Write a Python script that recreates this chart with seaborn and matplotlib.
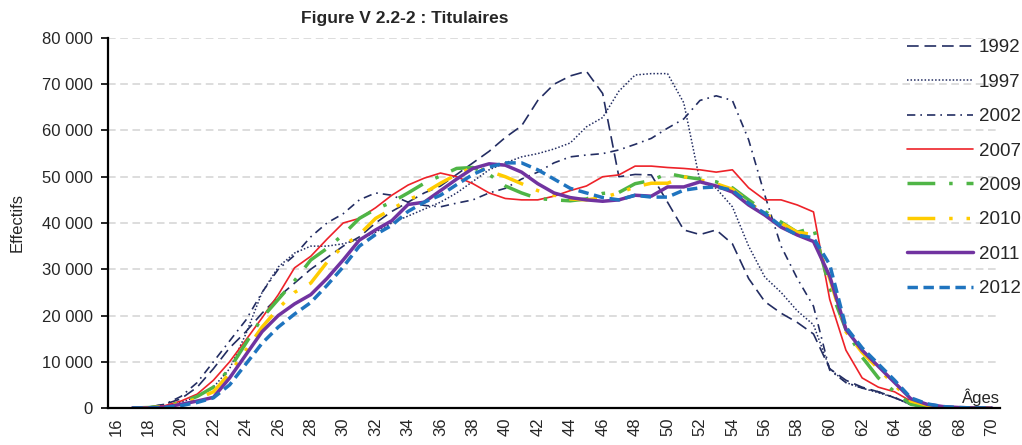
import numpy as np
import pandas as pd
import matplotlib
matplotlib.use("Agg")
import matplotlib.pyplot as plt
from matplotlib.ticker import FuncFormatter, FixedLocator
import seaborn as sns

# ages 16..70
ages = list(range(16, 71))

y1992 = [0, 0, 200, 800, 2000, 4500, 8500, 13000, 16500, 20500, 24000, 27000, 30000, 32500,
         35000, 37000, 40000, 42500, 44500, 46500, 48000, 50500, 53000, 55500, 58500, 61000,
         66500, 70000, 71800, 72800, 68000, 50000, 50500, 50400, 44500, 38500, 37500, 38500,
         35500, 28000, 23000, 20500, 18500, 16000, 8500, 6000, 4500, 3500, 2200, 800, 300,
         100, 0, 0, 0]
y1997 = [0, 0, 100, 400, 1200, 2500, 4500, 8500, 16000, 25000, 30500, 33500, 35000, 35000,
         35500, 36500, 38000, 40000, 41500, 43000, 44500, 46500, 49000, 51500, 53000, 54300,
         55000, 56000, 57300, 60800, 62800, 68500, 72000, 72300, 72300, 66000, 49000, 47500,
         43500, 35000, 28300, 25000, 21000, 18000, 8500, 5500, 4300, 3300, 2200, 700, 200,
         50, 0, 0, 0]
y2002 = [0, 0, 200, 800, 2500, 5500, 10000, 14500, 19000, 25000, 30000, 33000, 37000, 40000,
         42000, 45000, 46500, 46000, 44500, 43800, 43500, 44300, 45000, 46500, 47500, 49500,
         51000, 53000, 54300, 54700, 55000, 55800, 57000, 58300, 60500, 62500, 66500, 67500,
         66500, 58000, 46000, 35000, 28000, 22000, 8200, 5500, 4300, 3500, 2300, 700, 200,
         50, 0, 0, 0]
y2007 = [None, 0, 100, 500, 1500, 3000, 6000, 10000, 14700, 19500, 24500, 30300, 32800, 36500,
         40000, 41000, 43300, 46000, 48200, 49700, 50800, 50000, 48500, 46500, 45300, 45000,
         45000, 45800, 47000, 48000, 50000, 50400, 52300, 52300, 52000, 51800, 51500, 51000,
         51500, 47600, 45000, 45000, 43900, 42400, 23500, 12500, 6500, 4500, 3500, 1500, 400,
         100, 0, 0, 0]
y2009 = [None, 0, 100, 400, 1200, 2500, 4500, 8500, 14000, 19500, 23500, 27500, 32000, 34500,
         37500, 41000, 43000, 44500, 46500, 48600, 50200, 51800, 52000, 50500, 48000, 46500,
         45300, 45000, 44800, 45200, 46400, 46600, 48500, 49200, 50700, 50000, 49500, 48900,
         47600, 45000, 42500, 40200, 38000, 39000, 26000, 17000, 11000, 6500, 3500, 800, 300,
         100, 0, 0, 0]
y2010 = [None, 0, 0, 300, 1000, 2000, 3500, 7500, 12500, 17500, 21500, 25000, 27000, 31500,
         35000, 37500, 41000, 43000, 45000, 46500, 48600, 50500, 52000, 51200, 50000, 48500,
         47000, 46000, 45200, 45000, 45500, 46500, 47800, 48600, 48600, 50000, 49300, 48500,
         47300, 44500, 42000, 40000, 38000, 37500, 28000, 16500, 12000, 8500, 5000, 1500, 600,
         200, 0, 0, 0]
y2011 = [None, 0, 0, 200, 800, 1500, 2300, 6500, 11500, 16500, 20000, 22500, 24500, 28000,
         32000, 36300, 38500, 40500, 44000, 44500, 47000, 49500, 51800, 52800, 52500, 51000,
         48500, 46500, 45500, 45000, 44700, 45000, 46000, 45800, 47800, 47800, 48900, 48000,
         46700, 43900, 41700, 39100, 37400, 36000, 28500, 17000, 12500, 9000, 5500, 2000, 800,
         300, 100, 0, 0]
y2012 = [None, 0, 0, 100, 500, 1200, 2200, 5000, 9500, 14000, 17500, 20300, 22800, 26500,
         30500, 35000, 37500, 39500, 42500, 44500, 46000, 48300, 50500, 52100, 53000, 53000,
         51500, 49500, 47500, 46500, 45500, 45000, 46000, 45600, 45600, 47100, 47600, 47800,
         47100, 44300, 42100, 39300, 37400, 36800, 31000, 17500, 13000, 9500, 6000, 2200, 900,
         300, 100, 0, 0]

series = {"1992": y1992, "1997": y1997, "2002": y2002, "2007": y2007,
          "2009": y2009, "2010": y2010, "2011": y2011, "2012": y2012}

navy = "#232D62"
styles = {
    "1992": dict(color=navy, lw=1.2, ls=(0, (7, 3.5))),
    "1997": dict(color=navy, lw=1.1, ls=(0, (1, 1.3))),
    "2002": dict(color=navy, lw=1.2, ls=(0, (5, 3, 1, 3))),
    "2007": dict(color="#EE2229", lw=1.2, ls="-"),
    "2009": dict(color="#4FB546", lw=2.5, ls=(0, (8, 4, 1, 4))),
    "2010": dict(color="#FFCC00", lw=2.5, ls=(0, (8, 4, 1, 4, 1, 4))),
    "2011": dict(color="#7133A0", lw=2.5, ls="-"),
    "2012": dict(color="#1F74BF", lw=2.5, ls=(0, (3, 1.6))),
}

sns.set_theme(style="white")
plt.rcParams["font.family"] = ["Liberation Sans", "DejaVu Sans"]
plt.rcParams["text.color"] = "#262626"

fig = plt.figure(figsize=(10.22, 4.45), dpi=100)
ax = fig.add_axes([108 / 1022, 1 - 408 / 445, 892 / 1022, 370 / 445])

for name, vals in series.items():
    df = pd.DataFrame({"age": ages, "n": vals}).dropna()
    st = styles[name]
    sns.lineplot(data=df, x="age", y="n", ax=ax, color=st["color"], linewidth=st["lw"],
                 linestyle=st["ls"], label=name, sort=False, estimator=None)

ax.set_xlim(15.5, 70.5)
ax.set_ylim(0, 80000)
ax.yaxis.set_major_locator(FixedLocator(np.arange(0, 80001, 10000)))
ax.yaxis.set_major_formatter(FuncFormatter(lambda v, p: f"{int(v):,}".replace(",", " ")))
ax.grid(axis="y", color="#D3D3D3", linestyle=(0, (5, 3)), linewidth=1.1)
ax.grid(axis="x", visible=False)

# labels every two years, tick marks at category boundaries
ax.set_xticks(list(range(16, 71, 2)))
ax.set_xticklabels([str(a) for a in range(16, 71, 2)], rotation=90)
ax.set_xticks(np.arange(15.5, 71, 1), minor=True)
ax.tick_params(axis="x", which="major", length=0, labelsize=12, pad=7, colors="#262626")
ax.tick_params(axis="x", which="minor", length=5, width=1.2, color="black", direction="out")
ax.tick_params(axis="y", length=5, width=1.2, color="black", direction="out",
               labelsize=12, labelcolor="#262626", pad=6, left=True)

for s in ["top", "right"]:
    ax.spines[s].set_visible(False)
for s in ["left", "bottom"]:
    ax.spines[s].set_color("black")
    ax.spines[s].set_linewidth(1.6)

ax.set_xlabel("")
ax.set_ylabel("Effectifs", fontsize=12, labelpad=12)
ax.text(1.0, 0.005, "Âges", transform=ax.transAxes, ha="right", va="bottom", fontsize=12)

fig.text(405 / 1022, 1 - 18 / 445, "Figure V 2.2-2 : Titulaires", ha="center", va="center",
         fontsize=12.5, fontweight="bold")

ax.legend(loc="upper left", bbox_to_anchor=(898 / 1022, 1 - 30 / 445),
          bbox_transform=fig.transFigure, frameon=False, fontsize=13.5,
          handlelength=3.5, handletextpad=0.3, labelspacing=0.92, borderpad=0)

fig.savefig("out.png", dpi=100)
